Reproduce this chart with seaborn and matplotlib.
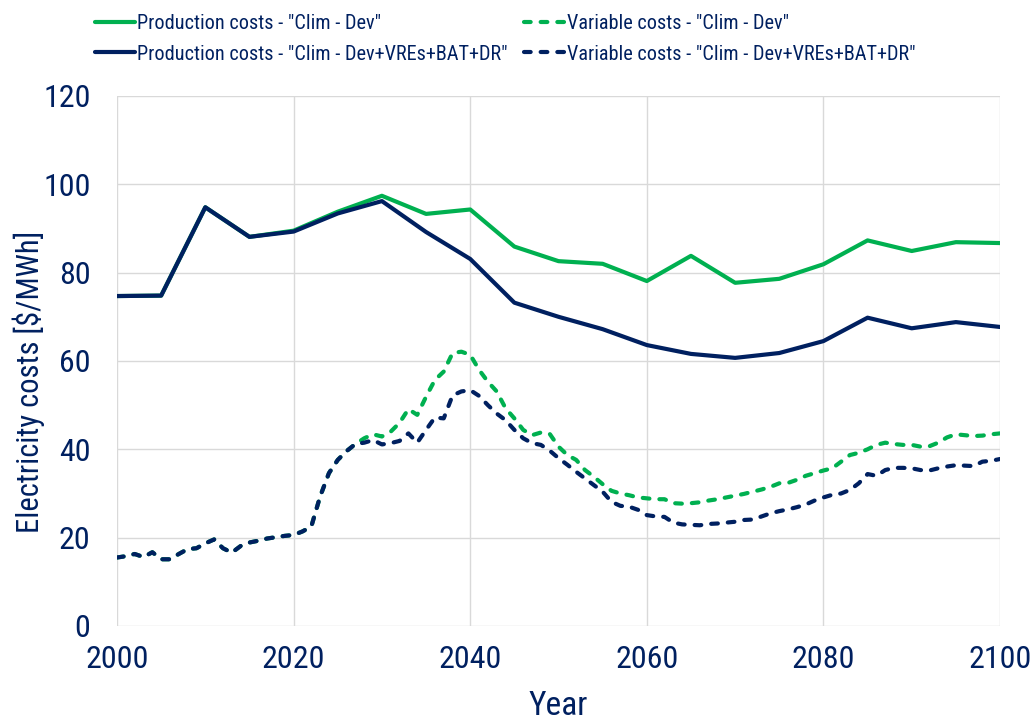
import numpy as np
import pandas as pd
import matplotlib
matplotlib.use("Agg")
import matplotlib.pyplot as plt
import seaborn as sns

# production costs, 5-year steps
years_5 = list(range(2000, 2101, 5))
prod_dev = [74.7, 74.8, 94.8, 88.1, 89.5, 93.8, 97.4, 93.3, 94.3, 85.9, 82.6,
            82.0, 78.1, 83.8, 77.7, 78.6, 81.9, 87.3, 84.9, 86.9, 86.7]
prod_vre = [74.7, 74.8, 94.8, 88.1, 89.3, 93.4, 96.2, 89.2, 83.1, 73.2, 70.0,
            67.2, 63.6, 61.6, 60.7, 61.8, 64.5, 69.8, 67.4, 68.8, 67.7]

# variable costs, annual
years_1 = list(range(2000, 2101))
var_vre = [15.5, 15.8, 16.3, 15.6, 16.7, 15.1, 15.1, 16.3, 17.4, 17.6,
           18.7, 19.6, 17.6, 16.6, 18.1, 18.9, 19.3, 19.8, 20.1, 20.4,
           20.6, 21.4, 22.5, 29.3, 34.6, 37.6, 39.6, 41.2, 41.5, 42.1,
           41.1, 41.4, 41.9, 43.6, 41.5, 44.4, 47.2, 47.0, 52.2, 53.1,
           53.4, 52.1, 50.0, 48.1, 46.6, 44.4, 42.5, 41.4, 41.0, 39.7,
           38.0, 36.5, 34.9, 33.4, 31.9, 30.4, 28.1, 27.2, 27.0, 26.3,
           25.1, 24.8, 24.7, 23.4, 23.0, 22.9, 22.8, 23.1, 23.2, 23.4,
           23.6, 24.0, 24.1, 24.8, 25.5, 26.0, 26.4, 26.9, 27.5, 28.4,
           29.1, 29.7, 30.0, 30.8, 32.3, 34.4, 34.0, 35.3, 35.8, 35.8,
           35.7, 35.3, 35.2, 35.7, 36.1, 36.4, 36.3, 36.2, 37.2, 37.4,
           37.8]
var_dev = var_vre[:28] + [
           42.5, 43.4,
           42.9, 44.0, 46.0, 49.1, 47.8, 51.9, 55.7, 57.6, 61.8, 62.1,
           61.4, 58.0, 55.3, 53.1, 49.3, 47.0, 44.4, 43.2, 43.8, 43.5,
           40.6, 38.7, 37.6, 35.3, 33.8, 32.1, 30.6, 30.0, 29.6, 29.1,
           28.9, 28.7, 28.7, 27.8, 27.7, 27.8, 28.0, 28.4, 28.7, 29.1,
           29.5, 29.9, 30.4, 30.9, 31.5, 32.3, 32.4, 33.1, 34.0, 34.6,
           35.2, 35.7, 37.2, 38.7, 39.2, 40.0, 41.0, 41.5, 41.2, 41.0,
           41.0, 40.6, 40.7, 41.5, 42.7, 43.4, 43.2, 43.0, 43.1, 43.4,
           43.6]

labels = ['Production costs - "Clim - Dev"',
          'Variable costs - "Clim - Dev"',
          'Production costs - "Clim - Dev+VREs+BAT+DR"',
          'Variable costs - "Clim - Dev+VREs+BAT+DR"']

green = "#00B050"
navy = "#002060"

sns.set_style("white")
plt.rcParams["font.family"] = ["Roboto Condensed", "Liberation Sans", "DejaVu Sans"]

fig = plt.figure(figsize=(10.3, 7.2), dpi=100)
ax = fig.add_axes([0.1136, 0.1306, 0.8573, 0.7361])

dash = (0, (1.6, 2.4))
h1 = sns.lineplot(x=years_5, y=prod_dev, color=green, linewidth=3, ax=ax, label=labels[0]).lines[-1]
h3 = sns.lineplot(x=years_5, y=prod_vre, color=navy, linewidth=3, ax=ax, label=labels[2]).lines[-1]
h2 = sns.lineplot(x=years_1, y=var_dev, color=green, linewidth=3, ax=ax, label=labels[1]).lines[-1]
h2.set_linestyle(dash)
h4 = sns.lineplot(x=years_1, y=var_vre, color=navy, linewidth=3, ax=ax, label=labels[3]).lines[-1]
h4.set_linestyle(dash)
for h in (h2, h4):
    h.set_dash_capstyle("round")
ax.get_legend().remove()

ax.set_xlim(2000, 2100)
ax.set_ylim(0, 120)
ax.set_xticks(range(2000, 2101, 20))
ax.set_yticks(range(0, 121, 20))
ax.grid(True, color="#D9D9D9", linewidth=1)
ax.set_axisbelow(True)
for s in ax.spines.values():
    s.set_visible(False)
ax.tick_params(axis="both", length=0, labelsize=23, colors=navy)
ax.tick_params(axis="x", pad=14)
ax.tick_params(axis="y", pad=19)
ax.set_xlabel("Year", fontsize=24, color=navy, labelpad=11)
ax.set_ylabel("Electricity costs [$/MWh]", fontsize=22, color=navy)
ax.yaxis.set_label_coords(-0.082, 0.46)

fig.legend([h1, h3, h2, h4], [labels[0], labels[2], labels[1], labels[3]],
           ncol=2, loc="upper left", bbox_to_anchor=(0.092, 0.98), frameon=False,
           fontsize=14.6, labelcolor=navy, handlelength=2.0, handletextpad=0.1,
           columnspacing=0.8, borderaxespad=0, borderpad=0, labelspacing=0.55)

fig.savefig("out.png", dpi=100)
